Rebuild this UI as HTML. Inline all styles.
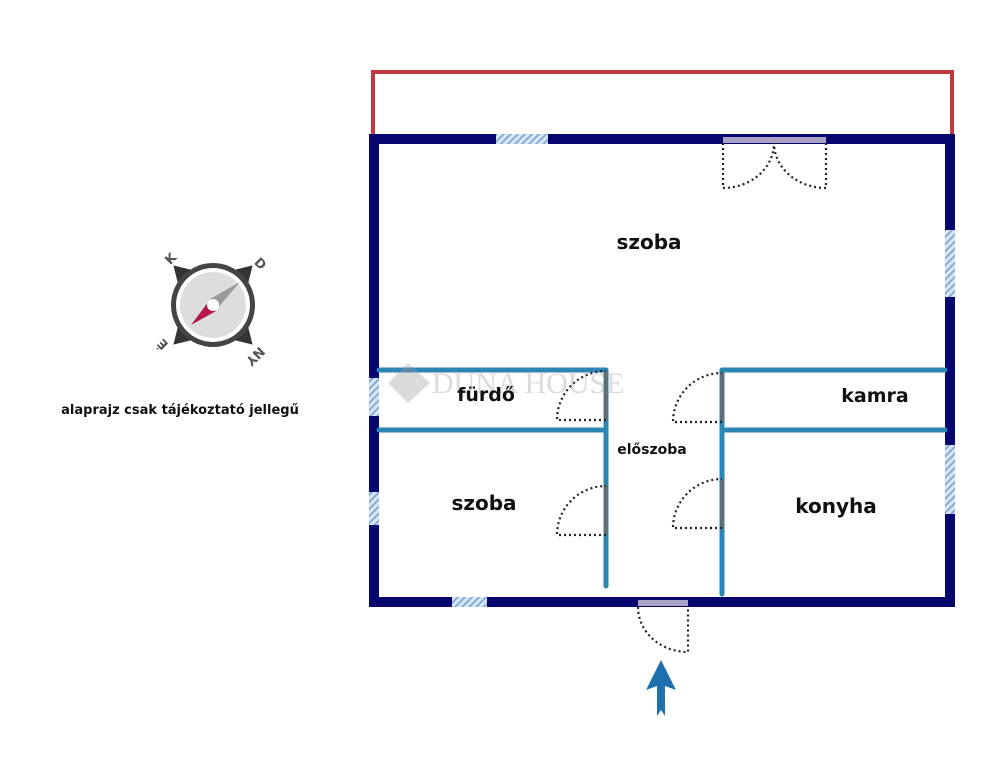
<!DOCTYPE html>
<html><head><meta charset="utf-8"><style>
html,body{margin:0;padding:0;background:#fff;}
svg{display:block;}
text{font-family:"DejaVu Sans","Liberation Sans",sans-serif;font-weight:bold;fill:#111;}
</style></head><body>
<svg width="1000" height="768" viewBox="0 0 1000 768" xmlns="http://www.w3.org/2000/svg">
<defs>
<pattern id="h" width="5" height="5" patternUnits="userSpaceOnUse" patternTransform="rotate(45)">
<rect width="5" height="5" fill="#d8e8f6"/><rect width="2" height="5" fill="#86acd6"/>
</pattern>
</defs>
<polyline points="373,134 373,72 952,72 952,134" fill="none" stroke="#c0393e" stroke-width="4"/>
<rect x="374" y="139" width="576" height="463" fill="none" stroke="#06066e" stroke-width="10"/>
<rect x="496" y="134" width="52" height="10" fill="url(#h)"/>
<rect x="945" y="230" width="10" height="67" fill="url(#h)"/>
<rect x="945" y="445" width="10" height="69" fill="url(#h)"/>
<rect x="369" y="378" width="10" height="38" fill="url(#h)"/>
<rect x="369" y="492" width="10" height="33" fill="url(#h)"/>
<rect x="452" y="597" width="35" height="10" fill="url(#h)"/>
<rect x="723" y="137" width="103" height="6" fill="#a9a2c4"/>
<rect x="638" y="600" width="50" height="6" fill="#a9a2c4"/>
<g stroke="#2b86b4" stroke-width="5" fill="none" stroke-linecap="round">
<line x1="379" y1="370" x2="606" y2="370"/>
<line x1="379" y1="430" x2="606" y2="430"/>
<line x1="606" y1="370" x2="606" y2="586"/>
<line x1="722" y1="370" x2="722" y2="594"/>
<line x1="722" y1="370" x2="945" y2="370"/>
<line x1="722" y1="430" x2="945" y2="430"/>
</g>
<g stroke="#5f6f78" stroke-width="4">
<line x1="606" y1="372" x2="606" y2="420"/>
<line x1="606" y1="485" x2="606" y2="534"/>
<line x1="722" y1="372" x2="722" y2="422"/>
<line x1="722" y1="480" x2="722" y2="528"/>
</g>
<g stroke="#222" stroke-width="2.2" fill="none" stroke-dasharray="2,3">
<path d="M606,420 H557 A49,49 0 0 1 606,371"/>
<path d="M606,535 H557 A49,49 0 0 1 606,486"/>
<path d="M722,422 H673 A49,49 0 0 1 722,373"/>
<path d="M722,528 H673 A49,49 0 0 1 722,479"/>
<path d="M723,143 V188 A51,45 0 0 0 774,143"/>
<path d="M826,143 V188 A52,45 0 0 1 774,143"/>
<path d="M638,607 A50,45 0 0 0 688,652 V607"/>
</g>
<polygon points="661,660 676,690 665,686 665,716 661,710 657,716 657,686 646,690" fill="#1e6fae"/>
<g opacity="0.35">
<polygon points="408,363 430,383 408,403 388,383" fill="#999"/>
<text x="432" y="393" style="fill:#999;font-weight:normal;font-family:'Liberation Serif',serif;font-size:30px">DUNA HOUSE</text>
</g>
<text x="649" y="249" font-size="20" text-anchor="middle">szoba</text>
<text x="486" y="401" font-size="19" text-anchor="middle">fürdő</text>
<text x="875" y="402" font-size="19" text-anchor="middle">kamra</text>
<text x="652" y="454" font-size="14" text-anchor="middle">előszoba</text>
<text x="484" y="510" font-size="20" text-anchor="middle">szoba</text>
<text x="836" y="513" font-size="20" text-anchor="middle">konyha</text>
<text x="180" y="414" font-size="13" text-anchor="middle">alaprajz csak tájékoztató jellegű</text>
<g transform="translate(213,305)">
<g transform="rotate(45)" fill="#333">
<polygon points="0,-56 -12,-36 12,-36"/>
<polygon points="0,56 -12,36 12,36"/>
<polygon points="-56,0 -36,-12 -36,12"/>
<polygon points="56,0 36,-12 36,12"/>
</g>
<circle r="42" fill="#444"/>
<circle r="37" fill="#fff"/>
<circle r="33" fill="#ddd"/>
<polygon points="27,-23 -3,-6 4,4" fill="#999"/>
<polygon points="-22,20 3,6 -4,-4" fill="#b3164a"/>
<circle r="6" fill="#fff"/>
<text x="-42" y="-42" font-size="13" style="fill:#555" transform="rotate(-45,-42,-46)" text-anchor="middle">K</text>
<text x="47" y="-37" font-size="13" style="fill:#555" transform="rotate(45,47,-41)" text-anchor="middle">D</text>
<text x="-50" y="43" font-size="13" style="fill:#555" transform="rotate(-135,-50,39)" text-anchor="middle">É</text>
<text x="42" y="55" font-size="13" style="fill:#555" transform="rotate(135,42,51)" text-anchor="middle">NY</text>
</g>
</svg>
</body></html>
